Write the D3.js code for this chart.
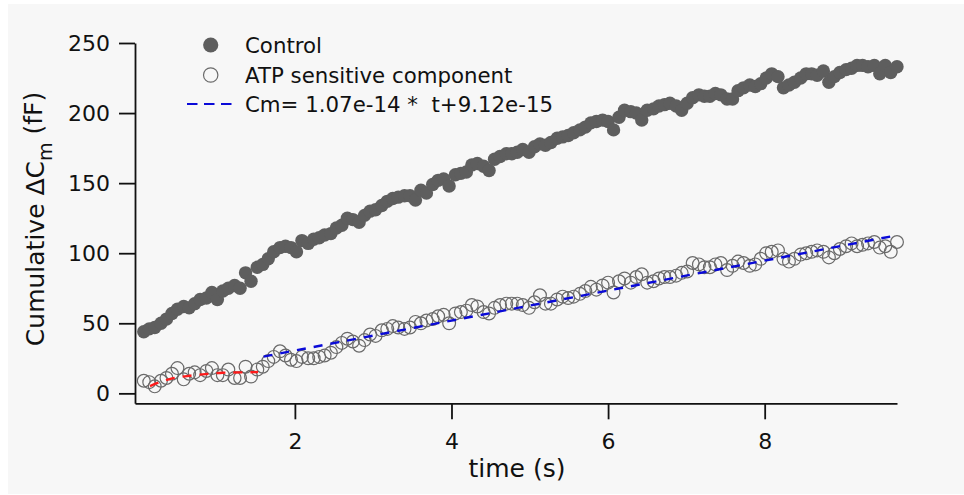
<!DOCTYPE html>
<html>
<head>
<meta charset="utf-8">
<script src="https://cdn.jsdelivr.net/npm/d3@7"></script>
<style>
  html, body { margin: 0; padding: 0; background: #ffffff; }
  svg { display: block; font-family: "DejaVu Sans", sans-serif; }
</style>
</head>
<body>
<svg id="chart" width="964" height="495"></svg>
<script>
// Sample times (s)
const times = [
  0.07, 0.14, 0.21, 0.29, 0.36, 0.43, 0.50, 0.58, 0.65, 0.72,
  0.79, 0.87, 0.94, 1.01, 1.08, 1.15, 1.23, 1.30, 1.37, 1.44,
  1.52, 1.59, 1.66, 1.73, 1.81, 1.88, 1.95, 2.02, 2.09, 2.17,
  2.24, 2.31, 2.38, 2.46, 2.53, 2.60, 2.67, 2.74, 2.82, 2.89,
  2.96, 3.03, 3.11, 3.18, 3.25, 3.32, 3.40, 3.47, 3.54, 3.61,
  3.68, 3.76, 3.83, 3.90, 3.97, 4.05, 4.12, 4.19, 4.26, 4.33,
  4.41, 4.48, 4.55, 4.62, 4.70, 4.77, 4.84, 4.91, 4.99, 5.06,
  5.13, 5.20, 5.27, 5.35, 5.42, 5.49, 5.56, 5.64, 5.71, 5.78,
  5.85, 5.93, 6.00, 6.07, 6.14, 6.21, 6.29, 6.36, 6.43, 6.50,
  6.58, 6.65, 6.72, 6.79, 6.87, 6.94, 7.01, 7.08, 7.16, 7.23,
  7.30, 7.37, 7.44, 7.52, 7.59, 7.66, 7.73, 7.81, 7.88, 7.95,
  8.02, 8.09, 8.17, 8.24, 8.31, 8.38, 8.46, 8.53, 8.60, 8.67,
  8.75, 8.82, 8.89, 8.96, 9.04, 9.11, 9.18, 9.25, 9.32, 9.40,
  9.47, 9.54, 9.61, 9.69
];

// Cumulative capacitance change, control (fF)
const controlValues = [
   44,  46,  47,  50,  53,  57,  60,  62,  61,  64,
   67,  68,  72,  67,  73,  75,  77,  75,  86,  80,
   90,  92,  96, 101, 104, 105, 104, 101, 109, 107,
  110, 111, 113, 114, 118, 120, 125, 124, 122, 127,
  130, 131, 134, 137, 139, 140, 141, 141, 138, 145,
  143, 149, 152, 153, 148, 156, 157, 158, 163, 164,
  162, 159, 167, 169, 171, 171, 172, 174, 172, 176,
  178, 177, 179, 182, 183, 184, 186, 188, 190, 193,
  194, 195, 194, 188, 197, 202, 201, 200, 195, 202,
  203, 205, 206, 207, 205, 202, 207, 211, 213, 212,
  212, 214, 213, 210, 210, 216, 218, 220, 219, 221,
  225, 228, 226, 218, 220, 222, 225, 228, 228, 227,
  230, 222, 226, 229, 231, 232, 234, 234, 233, 234,
  228, 234, 229, 233
];

// ATP sensitive component (fF)
const atpValues = [
    9,   8,   5,   9,  11,  14,  18,  10,  14,  15,
   13,  16,  18,  13,  13,  17,  11,  11,  19,  12,
   17,  19,  23,  26,  30,  27,  24,  23,  26,  25,
   25,  26,  27,  29,  33,  36,  39,  37,  34,  38,
   42,  41,  45,  46,  48,  47,  46,  47,  51,  50,
   52,  53,  55,  56,  50,  57,  58,  59,  63,  62,
   58,  57,  61,  63,  64,  64,  64,  63,  61,  65,
   70,  64,  64,  67,  69,  68,  69,  71,  73,  76,
   74,  77,  79,  72,  80,  82,  79,  83,  85,  79,
   80,  82,  83,  83,  84,  86,  87,  93,  92,  90,
   90,  92,  93,  88,  91,  94,  93,  91,  92,  96,
  100, 101, 102,  96,  94,  96,  99, 100, 101, 102,
  101,  97, 100, 103, 105, 107, 105, 106, 107, 108,
  104, 105, 101, 108
];

// Early-phase fit (red), sampled points [t (s), fF]
const earlyFitT = [0.15, 0.40, 0.66, 0.87, 1.08, 1.34, 1.53];
const earlyFitV = [5.2, 10.2, 12.6, 13.8, 14.7, 15.0, 15.2];

// Linear fit Cm = slope * t + intercept (F), plotted over fitRange (s)
const fitSlope = 1.07e-14;
const fitIntercept = 9.12e-15;
const fitRange = [1.6, 9.69];

const xTicks = [2, 4, 6, 8];
const yTicks = [0, 50, 100, 150, 200, 250];
const legendLabels = ["Control", "ATP sensitive component", "Cm= 1.07e-14 *  t+9.12e-15"];

const svg = d3.select("#chart");

// panel background
svg.append("rect")
  .attr("x", 8).attr("y", 4)
  .attr("width", 956).attr("height", 490)
  .attr("fill", "#f7f7f7");

const x = d3.scaleLinear().domain([-0.042, 9.69]).range([135, 897]);
const y = d3.scaleLinear().domain([-7.1, 250]).range([403.3, 43]);

const ink = "#111";

// Axes
const xAxis = svg.append("g")
  .attr("transform", `translate(0,${y.range()[0]})`)
  .call(d3.axisBottom(x).tickValues(xTicks).tickFormat(d3.format("d"))
    .tickSizeInner(16).tickSizeOuter(0).tickPadding(14));
const yAxis = svg.append("g")
  .attr("transform", `translate(${x.range()[0]},0)`)
  .call(d3.axisLeft(y).tickValues(yTicks).tickFormat(d3.format("d"))
    .tickSizeInner(16).tickSizeOuter(0).tickPadding(9));

[xAxis, yAxis].forEach(g => {
  g.select(".domain").attr("stroke", ink).attr("stroke-width", 1.8);
  g.selectAll(".tick line").attr("stroke", ink).attr("stroke-width", 1.8);
  g.selectAll(".tick text").attr("fill", ink).style("font-size", "22px")
    .style("font-family", "DejaVu Sans, sans-serif");
});

// Axis titles
svg.append("text")
  .attr("x", 517).attr("y", 477)
  .attr("text-anchor", "middle")
  .style("font-size", "25px").attr("fill", ink)
  .text("time (s)");

const yTitle = svg.append("text")
  .attr("transform", "translate(44,219) rotate(-90)")
  .attr("text-anchor", "middle")
  .style("font-size", "25px").attr("fill", ink);
yTitle.append("tspan").text("Cumulative \u0394C");
yTitle.append("tspan").attr("dy", "0.4em").style("font-size", "19px").text("m");
yTitle.append("tspan").attr("dy", "-0.4em").text("\u00a0(fF)");

// Data
const controlPts = times.map((t, i) => [t, controlValues[i]]);
const atpPts = times.map((t, i) => [t, atpValues[i]]);

svg.append("g").selectAll("circle")
  .data(controlPts).join("circle")
  .attr("cx", d => x(d[0])).attr("cy", d => y(d[1]))
  .attr("r", 6.7)
  .attr("fill", "#5e5e5e");

svg.append("g").selectAll("circle")
  .data(atpPts).join("circle")
  .attr("cx", d => x(d[0])).attr("cy", d => y(d[1]))
  .attr("r", 6.4)
  .attr("fill", "none")
  .attr("stroke", "#6a6a6a")
  .attr("stroke-width", 1.2);

// Fits
svg.append("path")
  .datum(earlyFitT.map((t, i) => [t, earlyFitV[i]]))
  .attr("d", d3.line().x(d => x(d[0])).y(d => y(d[1])).curve(d3.curveMonotoneX))
  .attr("fill", "none")
  .attr("stroke", "#ff1a1a")
  .attr("stroke-width", 2.4)
  .attr("stroke-dasharray", "9,8");

const toFF = 1e15;
svg.append("path")
  .datum(fitRange.map(t => [t, (fitSlope * t + fitIntercept) * toFF]))
  .attr("d", d3.line().x(d => x(d[0])).y(d => y(d[1])))
  .attr("fill", "none")
  .attr("stroke", "#0a0ad8")
  .attr("stroke-width", 2.4)
  .attr("stroke-dasharray", "9,8");

// Legend
const legend = svg.append("g");
const rowY = [45, 75, 104];
legend.append("circle").attr("cx", 210.7).attr("cy", rowY[0]).attr("r", 7.6).attr("fill", "#5e5e5e");
legend.append("circle").attr("cx", 210.7).attr("cy", rowY[1]).attr("r", 7.2)
  .attr("fill", "none").attr("stroke", "#6a6a6a").attr("stroke-width", 1.2);
legend.append("line")
  .attr("x1", 187).attr("x2", 232).attr("y1", rowY[2]).attr("y2", rowY[2])
  .attr("stroke", "#0a0ad8").attr("stroke-width", 2.2)
  .attr("stroke-dasharray", "10.5,6.5");
legend.selectAll("text.lbl")
  .data(legendLabels).join("text")
  .attr("class", "lbl")
  .attr("x", 245).attr("y", (d, i) => rowY[i])
  .attr("dy", "0.36em")
  .style("font-size", "21.3px")
  .style("white-space", "pre")
  .attr("fill", ink)
  .text(d => d);
</script>
</body>
</html>
